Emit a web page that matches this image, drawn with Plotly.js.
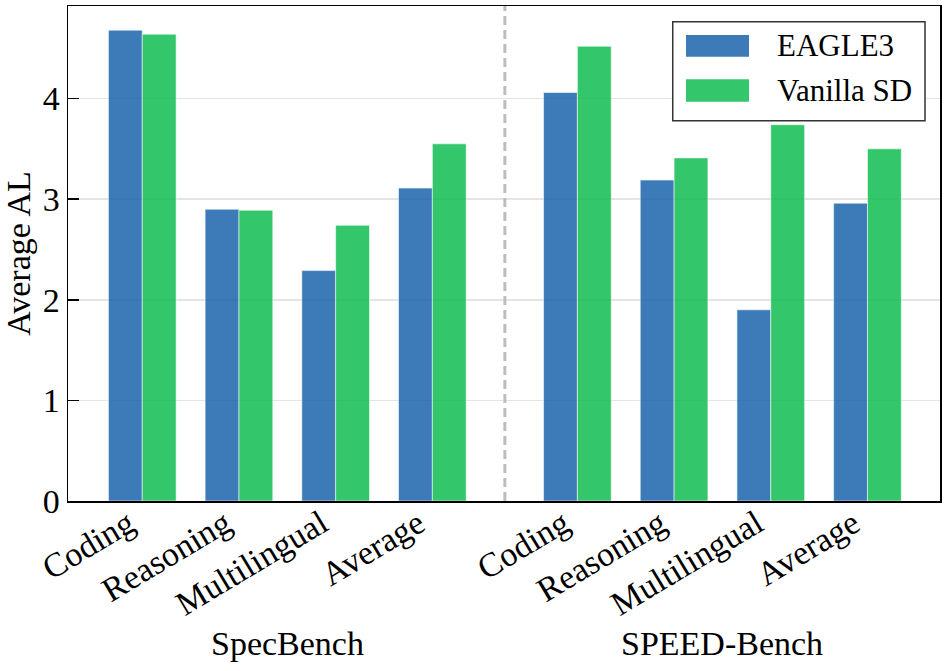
<!DOCTYPE html>
<html>
<head>
<meta charset="utf-8">
<script src="https://cdn.plot.ly/plotly-3.0.1.min.js"></script>
<style>
  html, body { margin: 0; padding: 0; background: #ffffff; }
  #chart { width: 947px; height: 671px; }
</style>
</head>
<body>
<div id="chart"></div>
<script>
// Benchmark groups and their task categories
const benchmarks = ["SpecBench", "SPEED-Bench"];
const categories = ["Coding", "Reasoning", "Multilingual", "Average"];

// Average acceptance length per category, SpecBench then SPEED-Bench
const eagle3Values  = [4.68, 2.90, 2.29, 3.11,   4.06, 3.19, 1.90, 2.96];
const vanillaValues = [4.64, 2.89, 2.74, 3.55,   4.52, 3.41, 3.74, 3.50];

const seriesNames = ["EAGLE3", "Vanilla SD"];
const yTicks = [0, 1, 2, 3, 4];

// Styling
const FONT = "Liberation Serif, 'Times New Roman', Times, serif";
const colors = ["rgba(26,100,170,0.85)", "rgba(17,188,81,0.85)"];
const groupGap = 0.5;   // extra space between the two benchmark blocks

// x positions: categories at unit spacing, benchmark blocks separated by a gap
const xPos = [];
const tickText = [];
benchmarks.forEach((b, g) => {
  categories.forEach((c, i) => {
    xPos.push(g * (categories.length + groupGap) + i);
    tickText.push(c);
  });
});
const groupCenters = benchmarks.map((b, g) => {
  const xs = xPos.slice(g * categories.length, (g + 1) * categories.length);
  return (xs[0] + xs[xs.length - 1]) / 2;
});
const dividerX = (xPos[categories.length - 1] + xPos[categories.length]) / 2;

const traces = [eagle3Values, vanillaValues].map((vals, k) => ({
  type: "bar",
  name: seriesNames[k],
  x: xPos,
  y: vals,
  marker: { color: colors[k], line: { color: "rgba(255,255,255,0.55)", width: 1 } },
  showlegend: false,
  hoverinfo: "x+y+name"
}));

// Legend box drawn in paper coordinates
const legBox = { x0: 0.6935, x1: 0.9828, y0: 0.7683, y1: 0.9683 };
const swatchX = [0.7087, 0.781];
const swatchY = [[0.8976, 0.9414], [0.8067, 0.8519]];
const legTextX = 0.8108;
const legTextY = [0.9196, 0.8293];

const shapes = [
  {
    type: "line", xref: "x", yref: "paper",
    x0: dividerX, x1: dividerX, y0: 0, y1: 1,
    line: { color: "#bdbdbd", width: 3, dash: "9px,5px" },
    layer: "above"
  },
  {
    type: "rect", xref: "paper", yref: "paper",
    x0: legBox.x0, x1: legBox.x1, y0: legBox.y0, y1: legBox.y1,
    fillcolor: "#ffffff", line: { color: "#333333", width: 1.5 },
    layer: "above"
  }
];
seriesNames.forEach((n, k) => {
  shapes.push({
    type: "rect", xref: "paper", yref: "paper",
    x0: swatchX[0], x1: swatchX[1], y0: swatchY[k][0], y1: swatchY[k][1],
    fillcolor: colors[k], line: { width: 0 }, layer: "above"
  });
});

const annotations = [];
seriesNames.forEach((n, k) => {
  annotations.push({
    text: n, xref: "paper", yref: "paper",
    x: legTextX, y: legTextY[k], xanchor: "left", yanchor: "middle",
    showarrow: false, font: { family: FONT, size: 31, color: "#000" }
  });
});
benchmarks.forEach((b, g) => {
  annotations.push({
    text: b, xref: "x", yref: "paper",
    x: groupCenters[g], y: -0.287, xanchor: "center", yanchor: "middle",
    showarrow: false, font: { family: FONT, size: 34, color: "#000" }
  });
});

const layout = {
  width: 947,
  height: 671,
  margin: { l: 68, r: 7, t: 6, b: 170 },
  paper_bgcolor: "#ffffff",
  plot_bgcolor: "#ffffff",
  font: { family: FONT, size: 34, color: "#000" },
  barmode: "group",
  bargap: 0.3,
  bargroupgap: 0,
  showlegend: false,
  xaxis: {
    range: [-0.768, 8.25],
    tickmode: "array",
    tickvals: xPos,
    ticktext: tickText,
    tickangle: -31,
    ticklabelshift: -14,
    ticklabelstandoff: -12,
    ticks: "",
    showgrid: false,
    zeroline: false,
    showline: true,
    linecolor: "#000",
    linewidth: 1.5,
    mirror: true,
    tickfont: { family: FONT, size: 34, color: "#000" }
  },
  yaxis: {
    range: [0, 4.92],
    tickmode: "array",
    tickvals: yTicks,
    ticktext: yTicks.map(String),
    ticks: "inside",
    ticklen: 11,
    tickwidth: 1.5,
    tickcolor: "#000",
    showgrid: true,
    gridcolor: "#e4e4e4",
    gridwidth: 1.5,
    zeroline: false,
    showline: true,
    linecolor: "#000",
    linewidth: 1.5,
    mirror: true,
    tickfont: { family: FONT, size: 34, color: "#000" },
    title: { text: "Average AL", font: { family: FONT, size: 34, color: "#000" }, standoff: 4 }
  },
  shapes: shapes,
  annotations: annotations
};

Plotly.newPlot("chart", traces, layout, { displayModeBar: false, staticPlot: true });
</script>
</body>
</html>
